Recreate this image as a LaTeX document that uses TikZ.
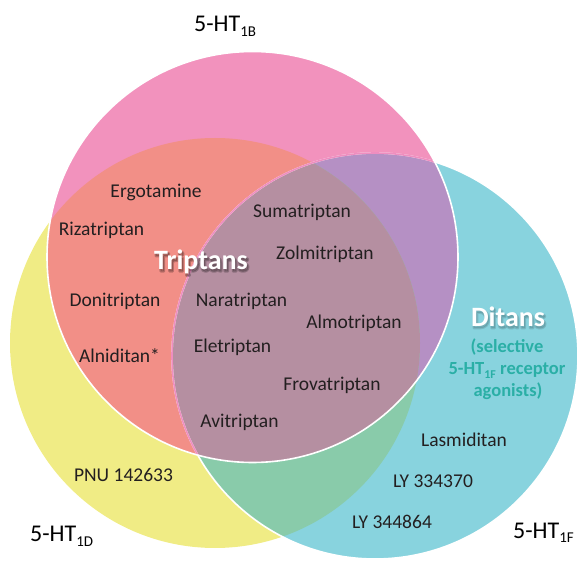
\documentclass[tikz,border=0pt]{standalone}
\usepackage{fontspec}
\setmainfont{Carlito}
\definecolor{pinkC}{HTML}{F292BD}
\definecolor{yellowC}{HTML}{F0EC85}
\definecolor{cyanC}{HTML}{88D3DE}
\definecolor{salmonC}{HTML}{F28F87}
\definecolor{purpleC}{HTML}{B590C4}
\definecolor{greenC}{HTML}{89CBAA}
\definecolor{mauveC}{HTML}{B58FA1}
\definecolor{edgeP}{HTML}{EE8EC0}
\definecolor{txt}{HTML}{231F20}
\definecolor{tealT}{HTML}{2AAFA6}
\tikzset{
  drug/.style={font=\fontsize{19.5}{22}\selectfont, text=txt, inner sep=0pt, anchor=base},
  rec/.style={font=\fontsize{24}{26}\selectfont, text=black, inner sep=0pt, anchor=base west},
  big/.style={font=\bfseries\fontsize{28}{30}\selectfont, text=white, inner sep=0pt, anchor=base},
  bigsh/.style={font=\bfseries\fontsize{28}{30}\selectfont, text=black, opacity=0.22, inner sep=0pt, anchor=base},
  sel/.style={font=\bfseries\fontsize{18.5}{22}\selectfont, text=tealT, inner sep=0pt, anchor=base},
}
\newcommand{\subsc}[1]{\raisebox{-0.35ex}{\fontsize{15}{16}\selectfont #1}}
\newcommand{\subsm}[1]{\raisebox{-0.35ex}{\fontsize{12}{13}\selectfont #1}}
\newcommand{\fatglyph}[1]{\special{pdf:literal direct 2 Tr 2.2 w 1 j}#1\special{pdf:literal direct 0 Tr}}
\begin{document}
\begin{tikzpicture}[x=1pt,y=-1pt]
\useasboundingbox (0,0) rectangle (579,561);
\def\PC{(252.5,257) circle[radius=205.5]}
\def\YC{(215,343) circle[radius=205]}
\def\CC{(375,356) circle[radius=203]}
% base fills
\fill[yellowC] \YC;
\fill[cyanC] \CC;
\fill[pinkC] \PC;
% intersections
\begin{scope}
  \clip \PC;
  \fill[salmonC] \YC;
  \fill[purpleC] \CC;
\end{scope}
\begin{scope}
  \clip \YC;
  \fill[greenC] \CC;
  \clip \PC;
  \fill[mauveC] \CC;
\end{scope}
% outlines
\draw[white, line width=1.6pt] \CC;
\begin{scope}
  \clip \PC;
  \draw[edgeP, line width=1.6pt] \CC;
\end{scope}
\draw[white, line width=1.6pt] \PC;
% receptor labels
\node[rec] (l1b) at (194,32) {5-HT\subsc{1B}};
\node[rec] (l1d) at (30,542) {5-HT\subsc{1D}};
\node[rec] (l1f) at (513,538) {5-HT\subsc{1F}};
% group labels with soft shadow
\node[bigsh, shift={(1.2,1.4)}] (tsh) at (201,270) {\fatglyph{Triptans}};
\node[bigsh, opacity=0.12, shift={(1,1.2)}] (dsh) at (508,327) {\fatglyph{Ditans}};
\node[big] (trip) at (201,270) {Triptans};
\node[big] (dit) at (508,327) {Ditans};
\node[sel] (sel1) at (507,353) {(selective};
\node[sel] (sel2) at (507,375) {5-HT\subsm{1F} receptor};
\node[sel] (sel3) at (508,397) {agonists)};
% drugs
\node[drug] (ergo) at (156,198) {Ergotamine};
\node[drug] (riza) at (101.5,236) {Rizatriptan};
\node[drug] (suma) at (302,218) {Sumatriptan};
\node[drug] (zolm) at (325,260) {Zolmitriptan};
\node[drug] (doni) at (115,307) {Donitriptan};
\node[drug] (nara) at (241.5,307) {Naratriptan};
\node[drug] (alni) at (119.5,363) {Alniditan*};
\node[drug] (elet) at (232.5,353) {Eletriptan};
\node[drug] (almo) at (354,329) {Almotriptan};
\node[drug] (frov) at (332,391) {Frovatriptan};
\node[drug] (avit) at (239.5,428) {Avitriptan};
\node[drug] (pnu) at (123.5,482) {PNU 142633};
\node[drug] (lasm) at (464,447) {Lasmiditan};
\node[drug] (ly1) at (433,488) {LY 334370};
\node[drug] (ly2) at (392,529) {LY 344864};
\end{tikzpicture}
\end{document}
